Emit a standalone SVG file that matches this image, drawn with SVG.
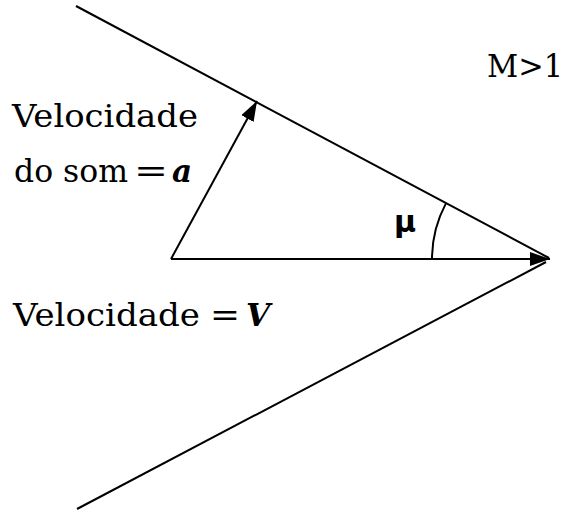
<svg xmlns="http://www.w3.org/2000/svg" width="564" height="514" viewBox="0 0 564 514">
<style>
.ln{stroke:#000;stroke-width:2;fill:none}
.t{font-family:'DejaVu Serif','Liberation Serif',serif;font-size:31px;fill:#000}
.b{font-weight:bold;font-style:italic}
</style>
<defs>
<marker id="ah" markerWidth="20" markerHeight="14" refX="20" refY="7" orient="auto" markerUnits="userSpaceOnUse">
<path d="M0,0 L20,7 L0,14 Z" fill="#000"/>
</marker>
</defs>
<rect width="564" height="514" fill="#fff"/>
<g id="connectors">
<line class="ln" x1="76" y1="6" x2="549" y2="258"/>
<line class="ln" x1="546" y1="262" x2="77" y2="509"/>
<line class="ln" x1="171" y1="259" x2="550" y2="259" marker-end="url(#ah)"/>
<line class="ln" x1="171" y1="259" x2="257" y2="101" marker-end="url(#ah)"/>
<path class="ln" d="M445.8,203.6 A118,118 0 0 0 432,259"/>
</g>
<g id="label-som">
<text class="t" x="12" y="127" textLength="186" lengthAdjust="spacingAndGlyphs">Velocidade</text>
<text class="t" y="182"><tspan x="14" textLength="114" lengthAdjust="spacingAndGlyphs">do som</tspan><tspan x="134" textLength="34" lengthAdjust="spacingAndGlyphs">=</tspan><tspan x="172" class="b">a</tspan></text>
</g>
<g id="label-v">
<text class="t" y="326"><tspan x="13" textLength="187" lengthAdjust="spacingAndGlyphs">Velocidade</tspan><tspan x="210" textLength="30" lengthAdjust="spacingAndGlyphs">=</tspan><tspan x="246" class="b">V</tspan></text>
</g>
<g id="label-mu">
<text x="394" y="232" font-family="DejaVu Sans, sans-serif" font-size="30" font-weight="bold">μ</text>
</g>
<g id="label-m">
<text class="t" x="487" y="77" textLength="76" lengthAdjust="spacingAndGlyphs">M&gt;1</text>
</g>
</svg>
